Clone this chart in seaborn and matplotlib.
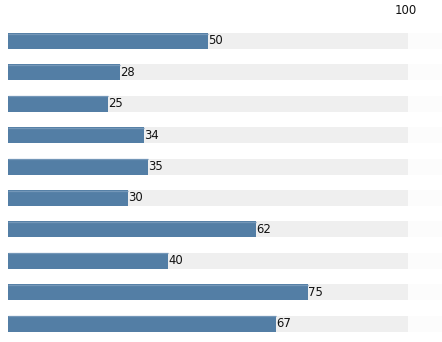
import matplotlib
matplotlib.use("Agg")
import matplotlib.pyplot as plt
import seaborn as sns
import pandas as pd

# Row labels (not drawn) and the progress values shown on each bar
rows = ["r1", "r2", "r3", "r4", "r5", "r6", "r7", "r8", "r9", "r10"]
values = [50, 28, 25, 34, 35, 30, 62, 40, 75, 67]
scale_max = 100

sns.set_theme(style="white")
plt.rcParams["font.family"] = ["DejaVu Sans"]

df = pd.DataFrame({"row": rows, "value": values, "full": [scale_max] * len(rows)})

fig = plt.figure(figsize=(4.42, 3.42), dpi=100)
ax = fig.add_axes([0, 0, 1, 1])

bar_w = 0.51
x_right = 108.5
# faint track running to the edge, then the 0-100 track, then the value bars
sns.barplot(data=df.assign(edge=x_right), x="edge", y="row", orient="h",
            color="#fcfcfc", saturation=1, width=bar_w, linewidth=0, ax=ax)
sns.barplot(data=df, x="full", y="row", orient="h",
            color="#efefef", saturation=1, width=bar_w, linewidth=0, ax=ax)
sns.barplot(data=df, x="value", y="row", orient="h",
            color="#537ea5", saturation=1, width=bar_w, linewidth=0, ax=ax)

value_bars = ax.containers[-1]

# lighter highlight line along the top edge of each value bar
for p in value_bars.patches:
    ax.plot([p.get_x(), p.get_x() + p.get_width()], [p.get_y() + 0.02] * 2,
            color="#7497b8", lw=0.9, solid_capstyle="butt")

ax.bar_label(value_bars, labels=[str(v) for v in values], padding=0,
             fontsize=8.4, color="#111111")

ax.text(scale_max - 0.5, -0.97, str(scale_max), ha="center", va="center",
        fontsize=8.4, color="#111111")

ax.set_xlim(-2, x_right)
ax.set_ylim(9.589, -1.306)
ax.set_axis_off()

fig.savefig("out.png", dpi=100)
